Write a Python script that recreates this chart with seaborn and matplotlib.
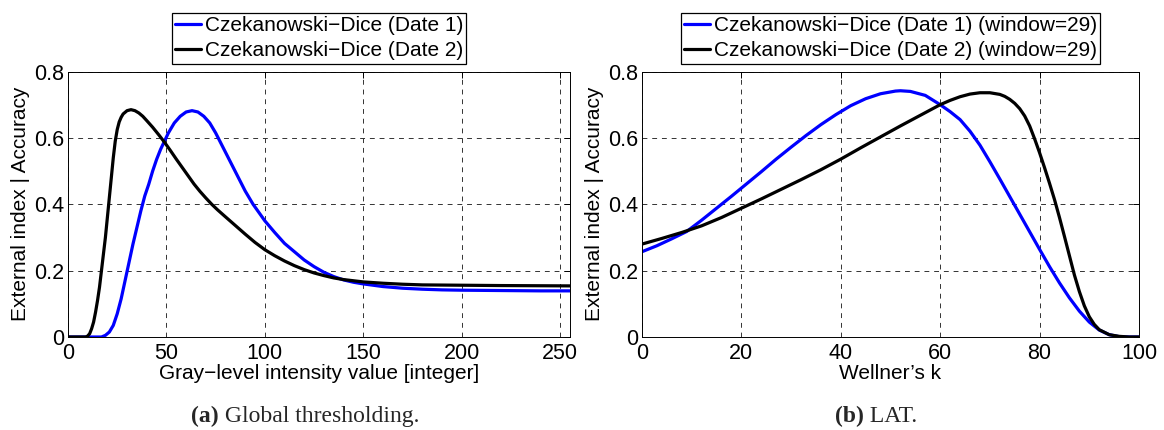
import matplotlib
matplotlib.use("Agg")
import matplotlib.pyplot as plt
import seaborn as sns
import pandas as pd
import numpy as np

# ---------------- data ----------------
gray_d1_x = [0, 10, 15, 17, 19, 21, 23, 25, 27, 29, 31, 33, 35, 37, 39, 41, 43, 45, 47, 49,
             51, 54, 57, 60, 63, 66, 69, 72, 75, 78, 81, 84, 87, 90, 94, 100, 105, 110, 115,
             120, 125, 130, 135, 140, 145, 150, 160, 170, 180, 190, 200, 220, 240, 255]
gray_d1_y = [0, 0, 0, 0.0, 0.005, 0.015, 0.035, 0.07, 0.115, 0.17, 0.225, 0.28, 0.33, 0.38,
             0.425, 0.46, 0.5, 0.535, 0.565, 0.59, 0.615, 0.645, 0.665, 0.678, 0.682, 0.678,
             0.665, 0.645, 0.615, 0.58, 0.545, 0.51, 0.475, 0.44, 0.4, 0.35, 0.315, 0.282,
             0.257, 0.232, 0.212, 0.195, 0.182, 0.172, 0.165, 0.16, 0.152, 0.147, 0.144,
             0.142, 0.141, 0.14, 0.139, 0.139]

gray_d2_x = [0, 9, 10, 11, 12, 13, 14, 15, 16, 17, 18, 19, 20, 21, 22, 23, 24, 25, 26, 27, 28,
             30, 32, 34, 36, 38, 40, 43, 46, 49, 52, 55, 58, 61, 64, 67, 70, 73, 76, 80, 85,
             90, 95, 100, 105, 110, 115, 120, 125, 130, 135, 140, 150, 160, 170, 180, 200,
             220, 255]
gray_d2_y = [0, 0, 0.003, 0.01, 0.025, 0.045, 0.075, 0.11, 0.15, 0.2, 0.25, 0.3, 0.36, 0.42,
             0.48, 0.54, 0.59, 0.625, 0.648, 0.662, 0.672, 0.682, 0.685, 0.682, 0.675, 0.665,
             0.652, 0.632, 0.61, 0.587, 0.562, 0.536, 0.511, 0.486, 0.461, 0.439, 0.419,
             0.40, 0.383, 0.362, 0.336, 0.31, 0.285, 0.263, 0.245, 0.229, 0.215, 0.203, 0.193,
             0.185, 0.178, 0.173, 0.166, 0.162, 0.159, 0.157, 0.156, 0.155, 0.154]

lat_d1_x = [0, 3, 6, 9, 12, 15, 18, 21, 24, 27, 30, 33, 36, 39, 42, 45, 48, 51, 52, 54, 57,
            60, 62, 64, 66, 68, 70, 72, 74, 76, 78, 80, 82, 84, 86, 88, 90, 92, 94, 96, 98, 100]
lat_d1_y = [0.257, 0.275, 0.296, 0.318, 0.352, 0.388, 0.424, 0.461, 0.498, 0.536, 0.572,
            0.607, 0.64, 0.67, 0.697, 0.718, 0.733, 0.741, 0.742, 0.74, 0.728, 0.70, 0.679,
            0.655, 0.62, 0.578, 0.528, 0.476, 0.423, 0.37, 0.317, 0.264, 0.212, 0.163,
            0.118, 0.078, 0.045, 0.021, 0.007, 0.001, 0.0, 0.0]

lat_d2_x = [0, 4, 8, 12, 16, 20, 24, 28, 32, 36, 40, 44, 48, 52, 56, 60, 62, 64, 66, 68, 70,
            72, 73, 74, 75, 76, 77, 78, 79, 80, 81, 82, 83, 84, 85, 86, 87, 88, 89, 90, 91,
            92, 94, 96, 98, 100]
lat_d2_y = [0.28, 0.297, 0.315, 0.335, 0.36, 0.388, 0.416, 0.445, 0.474, 0.504, 0.536, 0.57,
            0.603, 0.636, 0.668, 0.70, 0.713, 0.724, 0.732, 0.736, 0.736, 0.731, 0.725,
            0.716, 0.704, 0.688, 0.666, 0.636, 0.597, 0.555, 0.51, 0.463, 0.414, 0.36, 0.303,
            0.245, 0.187, 0.137, 0.094, 0.061, 0.038, 0.022, 0.007, 0.002, 0.0, 0.0]

left_labels = ["Czekanowski\u2212Dice (Date 1)", "Czekanowski\u2212Dice (Date 2)"]
right_labels = ["Czekanowski\u2212Dice (Date 1) (window=29)",
                "Czekanowski\u2212Dice (Date 2) (window=29)"]
left_xticks = [0, 50, 100, 150, 200, 250]
right_xticks = [0, 20, 40, 60, 80, 100]
yticks = [0, 0.2, 0.4, 0.6, 0.8]
ytick_labels = ["0", "0.2", "0.4", "0.6", "0.8"]
ylabel = "External index | Accuracy"
left_xlabel = "Gray\u2212level intensity value [integer]"
right_xlabel = "Wellner\u2019s k"

# ---------------- style ----------------
sns.set_theme(style="white")
plt.rcParams["font.family"] = ["Liberation Sans", "DejaVu Sans"]
plt.rcParams["axes.unicode_minus"] = True

W, H = 1164, 430
fig = plt.figure(figsize=(W / 100, H / 100), dpi=100)
fig.patch.set_facecolor("white")

ax_bottom = (H - 337) / H
ax_h = (337 - 71.5) / H
axL = fig.add_axes([68 / W, ax_bottom, 502 / W, ax_h])
axR = fig.add_axes([642 / W, ax_bottom, 497 / W, ax_h])

dfL = pd.concat([
    pd.DataFrame({"x": gray_d1_x, "y": gray_d1_y, "s": left_labels[0]}),
    pd.DataFrame({"x": gray_d2_x, "y": gray_d2_y, "s": left_labels[1]}),
])
dfR = pd.concat([
    pd.DataFrame({"x": lat_d1_x, "y": lat_d1_y, "s": right_labels[0]}),
    pd.DataFrame({"x": lat_d2_x, "y": lat_d2_y, "s": right_labels[1]}),
])

def style_axis(ax, df, labels, xlim, xticks, xlabel):
    sns.lineplot(data=df, x="x", y="y", hue="s", hue_order=labels,
                 palette=["#0000ff", "#000000"], linewidth=2.3, ax=ax,
                 estimator=None, sort=False, legend=True)
    for ln in ax.get_lines():
        ln.set_solid_joinstyle("round")
    ax.set_xlim(*xlim)
    ax.set_ylim(0, 0.8)
    ax.set_xticks(xticks)
    ax.set_xticklabels([str(t) for t in xticks])
    ax.set_yticks(yticks)
    ax.set_yticklabels(ytick_labels)
    ax.grid(True, linestyle=(0, (5, 5)), color="#333333", linewidth=0.7)
    ax.set_axisbelow(True)
    for sp in ax.spines.values():
        sp.set_visible(True)
        sp.set_color("black")
        sp.set_linewidth(0.7)
    ax.tick_params(direction="in", length=4, width=0.7, colors="black",
                   labelsize=15.5, top=True, right=True,
                   labeltop=False, labelright=False)
    ax.tick_params(axis="x", pad=4.5)
    ax.tick_params(axis="y", pad=3)
    ax.set_xlabel(xlabel, fontsize=15, color="black", labelpad=0)
    ax.set_ylabel(ylabel, fontsize=15, color="black", labelpad=3)
    leg = ax.legend(loc="lower center", bbox_to_anchor=(0.5, 1.03), fontsize=15,
                    frameon=True, fancybox=False, edgecolor="black", framealpha=1,
                    borderpad=0.15, labelspacing=0.3, handlelength=1.25,
                    handletextpad=0.2, borderaxespad=0)
    leg.get_frame().set_linewidth(0.9)
    for line in leg.get_lines():
        line.set_linewidth(2.3)
    for t in leg.get_texts():
        t.set_color("black")

style_axis(axL, dfL, left_labels, (0, 255), left_xticks, left_xlabel)
style_axis(axR, dfR, right_labels, (0, 100), right_xticks, right_xlabel)

# ---------------- captions ----------------
fig.canvas.draw()
renderer = fig.canvas.get_renderer()

def caption(center_px, y_px, tag, text):
    t1 = fig.text(0, 0, tag, fontsize=17, fontweight="bold",
                  family=["Liberation Serif", "DejaVu Serif"], va="center", ha="left")
    t2 = fig.text(0, 0, " " + text, fontsize=17,
                  family=["Liberation Serif", "DejaVu Serif"], va="center", ha="left")
    w1 = t1.get_window_extent(renderer).width
    w2 = t2.get_window_extent(renderer).width
    x0 = center_px - (w1 + w2) / 2
    y = (H - y_px) / H
    t1.set_position((x0 / W, y))
    t2.set_position(((x0 + w1) / W, y))

caption(305, 416.5, "(a)", "Global thresholding.")
caption(876, 416.5, "(b)", "LAT.")

fig.savefig("out.png", dpi=100, facecolor="white")
